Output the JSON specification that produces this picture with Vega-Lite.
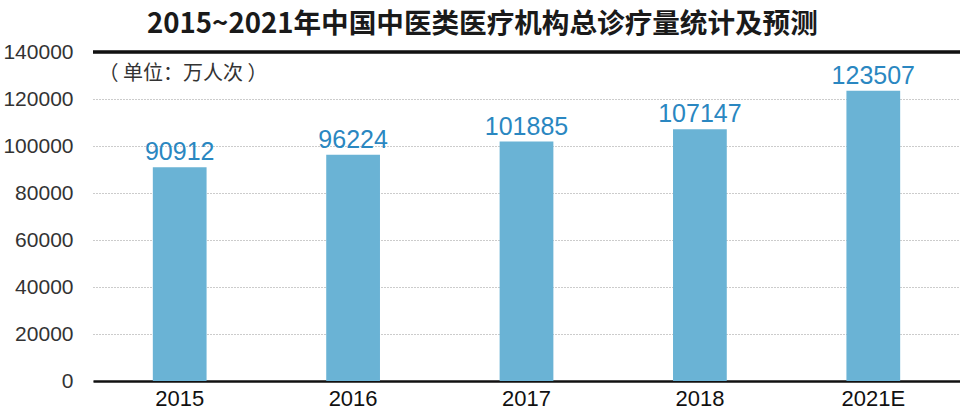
{
  "$schema": "https://vega.github.io/schema/vega-lite/v6.json",
  "autosize": "none",
  "width": 867,
  "height": 329,
  "padding": {"left": 93, "top": 52, "right": 0, "bottom": 31},
  "background": "white",
  "title": {
    "text": "2015~2021年中国中医类医疗机构总诊疗量统计及预测",
    "font": "Noto Sans CJK SC",
    "fontSize": 27.6,
    "fontWeight": "bold",
    "color": "#1a1a1a",
    "anchor": "start",
    "frame": "group",
    "dx": 54,
    "offset": 2
  },
  "data": {
    "values": [
      {"year": "2015", "visits": 90912},
      {"year": "2016", "visits": 96224},
      {"year": "2017", "visits": 101885},
      {"year": "2018", "visits": 107147},
      {"year": "2021E", "visits": 123507}
    ]
  },
  "encoding": {
    "x": {
      "field": "year",
      "type": "nominal",
      "sort": null,
      "scale": {"paddingInner": 0.69, "paddingOuter": 0.345},
      "axis": {
        "title": null,
        "labelAngle": 0,
        "labelFont": "Liberation Sans",
        "labelFontSize": 22,
        "labelColor": "#111",
        "labelPadding": 7,
        "ticks": false,
        "domainColor": "#111",
        "domainWidth": 2.5
      }
    },
    "y": {
      "field": "visits",
      "type": "quantitative",
      "scale": {"domain": [0, 140000], "nice": false},
      "axis": {
        "values": [0, 20000, 40000, 60000, 80000, 100000, 120000, 140000],
        "format": "d",
        "labelFont": "Liberation Sans",
        "labelFontSize": 21,
        "labelColor": "#333",
        "labelPadding": 20,
        "ticks": false,
        "domain": false,
        "grid": true,
        "gridColor": "#999",
        "gridDash": [1, 2],
        "gridWidth": 1,
        "title": "（ 单位：万人次 ）",
        "titleFont": "Noto Sans CJK SC",
        "titleFontSize": 20,
        "titleFontWeight": "normal",
        "titleColor": "#333",
        "titleAngle": 0,
        "titleAlign": "left",
        "titleBaseline": "middle",
        "titleX": 5,
        "titleY": 21
      }
    }
  },
  "layer": [
    {
      "mark": {"type": "bar", "color": "#6ab3d5"}
    },
    {
      "mark": {
        "type": "text",
        "baseline": "alphabetic",
        "dy": -7,
        "font": "Liberation Sans",
        "fontSize": 25,
        "color": "#2a87c1"
      },
      "encoding": {"text": {"field": "visits", "type": "quantitative", "format": "d"}}
    },
    {
      "mark": {"type": "rule", "color": "#111", "strokeWidth": 2.5},
      "encoding": {"y": {"datum": 140000}, "x": null}
    }
  ],
  "config": {"view": {"stroke": null}}
}
